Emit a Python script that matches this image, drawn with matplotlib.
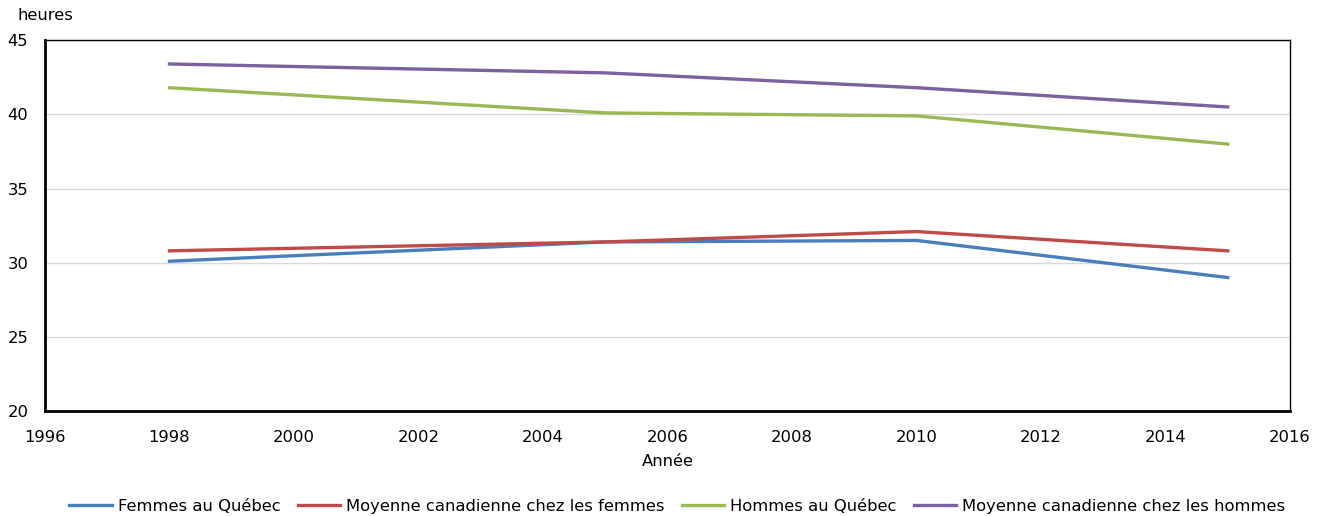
import matplotlib
matplotlib.use('Agg')
import matplotlib.pyplot as plt

years = [1998, 2005, 2010, 2015]
femmes_qc = [30.1, 31.4, 31.5, 29.0]
femmes_can = [30.8, 31.4, 32.1, 30.8]
hommes_qc = [41.8, 40.1, 39.9, 38.0]
hommes_can = [43.4, 42.8, 41.8, 40.5]

labels = ["Femmes au Québec", "Moyenne canadienne chez les femmes",
          "Hommes au Québec", "Moyenne canadienne chez les hommes"]
colors = ["#4a7ebb", "#be4b48", "#98b954", "#7d60a0"]

plt.rcParams['font.family'] = ['Verdana', 'DejaVu Sans']
plt.rcParams['font.size'] = 11.8

fig = plt.figure(figsize=(13.23, 5.16), dpi=100)
ax = fig.add_axes([0.034, 0.2035, 0.941, 0.7185])

for vals, lab, c in zip([femmes_qc, femmes_can, hommes_qc, hommes_can], labels, colors):
    ax.plot(years, vals, color=c, lw=2.4, label=lab)

ax.set_xlim(1996, 2016)
ax.set_ylim(20, 45)
ax.set_xticks(range(1996, 2017, 2))
ax.set_yticks(range(20, 46, 5))
ax.yaxis.grid(True, color='#d9d9d9', lw=1)
ax.set_axisbelow(True)
ax.tick_params(axis='x', length=0, pad=14)
ax.tick_params(axis='y', length=0, pad=12)
for side in ['left', 'bottom']:
    ax.spines[side].set_linewidth(2)
for side in ['top', 'right']:
    ax.spines[side].set_linewidth(1)

ax.set_xlabel("Année", labelpad=6)
fig.text(0.013, 0.955, "heures", ha='left', va='bottom')

fig.legend(loc='lower center', bbox_to_anchor=(0.512, -0.025), ncol=4, frameon=False,
           handlelength=2.6, handletextpad=0.35, columnspacing=1.05)

fig.savefig("out.png", dpi=100)
